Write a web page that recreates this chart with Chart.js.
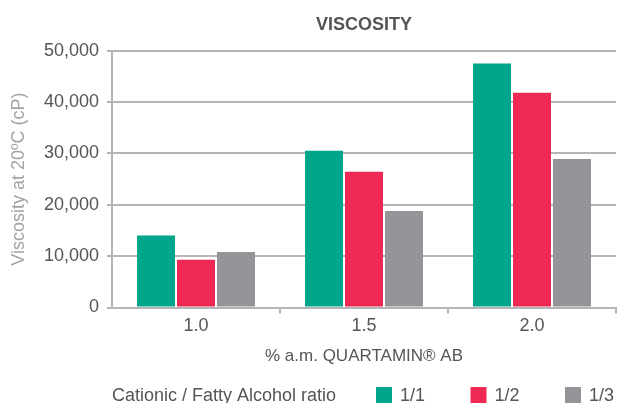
<!DOCTYPE html>
<html>
<head>
<meta charset="utf-8">
<script src="https://cdn.jsdelivr.net/npm/chart.js@4"></script>
<style>
  html, body { margin: 0; padding: 0; background: #fff; }
  canvas { display: block; }
</style>
</head>
<body>
<canvas id="viscosityChart" width="618" height="403"></canvas>
<script>
const categories = ['1.0', '1.5', '2.0'];
const ratioLabels = ['1/1', '1/2', '1/3'];
const ratio11 = [14000, 30500, 47500];
const ratio12 = [9300, 26400, 41800];
const ratio13 = [10800, 18800, 28900];
const yTicks = [0, 10000, 20000, 30000, 40000, 50000];
const legendTitle = 'Cationic / Fatty Alcohol ratio';

document.addEventListener('DOMContentLoaded', function() {
  const ctx = document.getElementById('viscosityChart').getContext('2d');
  const FONT = "'Liberation Sans', Arial, sans-serif";
  const colors = ['#00a68c', '#ee2a54', '#939598'];

  const data = {
    labels: categories,
    datasets: [ratio11, ratio12, ratio13].map(function(values, i) {
      return {
        label: ratioLabels[i],
        data: values,
        backgroundColor: colors[i],
        categoryPercentage: 0.714,
        barPercentage: 0.95
      };
    })
  };

  // legend drawn under the axis title, with a leading caption
  const bottomLegend = {
    id: 'bottomLegend',
    afterDraw: function(chart) {
      const c = chart.ctx;
      const baseY = 401;
      c.save();
      c.font = '18px ' + FONT;
      c.fillStyle = '#555';
      c.textBaseline = 'alphabetic';
      c.textAlign = 'left';
      c.fillText(legendTitle, chart.chartArea.left, baseY);
      chart.data.datasets.forEach(function(ds, i) {
        const x = 376 + i * 94.5;
        c.fillStyle = ds.backgroundColor;
        c.fillRect(x, 387, 16, 16);
        c.fillStyle = '#555';
        c.fillText(ds.label, x + 24, baseY);
      });
      c.restore();
    }
  };

  const options = {
    responsive: false,
    animation: false,
    layout: { padding: { top: 0, right: 2, bottom: 31, left: 0 } },
    scales: {
      x: {
        afterFit: function(scale) { scale.height = 64.5; },
        grid: {
          drawOnChartArea: false,
          drawTicks: true,
          tickLength: 6,
          lineWidth: 2,
          color: function(context) {
            return (context.index === 0 || context.index === categories.length) ? 'rgba(0,0,0,0)' : '#b5b5b5';
          }
        },
        border: { display: true, color: '#b5b5b5', width: 2 },
        ticks: {
          color: '#555',
          padding: 2,
          font: { family: FONT, size: 18 }
        },
        title: {
          display: true,
          text: '% a.m. QUARTAMIN® AB',
          color: '#555',
          font: { family: FONT, size: 17 },
          padding: { top: 0, bottom: 5 }
        }
      },
      y: {
        min: 0,
        max: 50000,
        afterFit: function(scale) { scale.width = 112; },
        afterBuildTicks: function(scale) {
          scale.ticks = yTicks.map(function(v) { return { value: v }; });
        },
        grid: {
          color: '#b5b5b5',
          lineWidth: 2,
          drawTicks: true,
          tickLength: 5
        },
        border: { display: true, color: '#b5b5b5', width: 2 },
        ticks: {
          color: '#555',
          padding: 8,
          font: { family: FONT, size: 18 },
          callback: function(value) {
            return value.toLocaleString('en-US');
          }
        },
        title: {
          display: true,
          text: 'Viscosity at 20ºC (cP)',
          color: '#a3a3a3',
          font: { family: FONT, size: 18 },
          padding: { top: 8, bottom: 0 }
        }
      }
    },
    plugins: {
      legend: { display: false },
      tooltip: { enabled: false },
      title: {
        display: true,
        fullSize: false,
        text: 'VISCOSITY',
        color: '#555',
        font: { family: FONT, size: 18, weight: 'bold' },
        padding: { top: 14, bottom: 15 }
      }
    }
  };

  new Chart(ctx, {
    type: 'bar',
    data: data,
    options: options,
    plugins: [bottomLegend]
  });
});
</script>
</body>
</html>
